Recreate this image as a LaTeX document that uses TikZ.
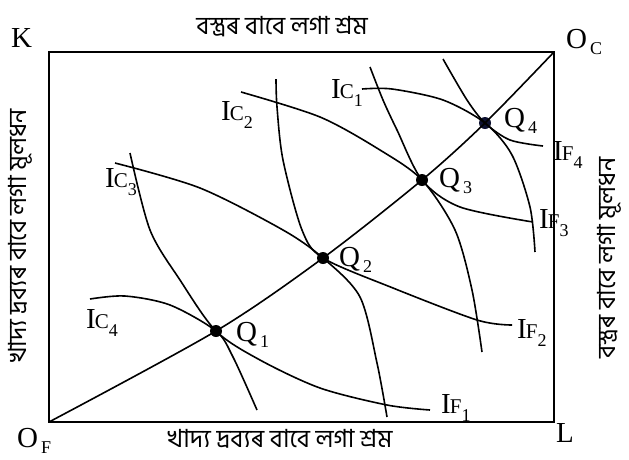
\documentclass[tikz,border=0pt]{standalone}
\usepackage{fontspec}
\setmainfont{Liberation Serif}
\newfontfamily\bnfont[Script=Bengali]{Hind Siliguri}
\usetikzlibrary{positioning}
\definecolor{navyq}{RGB}{12,16,48}
\tikzset{
    frame/.style={line width=2.2pt},
    curve/.style={line width=1.6pt},
    dot/.style={circle, fill=black, inner sep=0pt, minimum size=12pt},
    lbl/.style={font=\fontsize{29}{30}\selectfont, inner sep=0pt, anchor=base west},
    axtext/.style={font=\bnfont\fontsize{25}{27}\selectfont, inner sep=0pt}
}
\newcommand{\sublbl}[2]{#1\kern3pt\raisebox{-6pt}{\fontsize{18}{18}\selectfont #2}}
\newcommand{\ilbl}[2]{I\kern-1pt{\fontsize{21}{21}\selectfont #1}\raisebox{-8pt}{\fontsize{18}{18}\selectfont #2}}

\begin{document}
\begin{tikzpicture}[x=1pt, y=-1pt]
    \useasboundingbox (0,0) rectangle (629,459);
    \coordinate (OF) at (49,422);
    \coordinate (OC) at (554,52);
    \draw [frame] (OF) rectangle (OC);

    % equilibrium points
    \node [dot] (q1) at (216,331) {};
    \node [dot] (q2) at (323,258) {};
    \node [dot] (q3) at (422,180) {};
    \node [dot, fill=navyq] (q4) at (485,123) {};

    % contract curve
    \draw [curve] plot[smooth, tension=0.5] coordinates {(OF) (q1.center) (q2.center) (q3.center) (q4.center) (OC)};

    % indifference curves, cloth
    \draw [curve] plot[smooth] coordinates {(362,89) (392,89) (443,100) (q4.center) (512,155) (530,207) (535,252)};
    \draw [curve] plot[smooth] coordinates {(241,92) (320,117) (380,150) (q3.center) (455,230) (472,290) (482,352)};
    \draw [curve] plot[smooth] coordinates {(115,163) (200,188) (283,230) (q2.center) (360,297) (377,363) (387,417)};
    \draw [curve] plot[smooth] coordinates {(90,299) (125,296) (170,305) (q1.center) (233,357) (257,410)};

    % indifference curves, food
    \draw [curve] plot[smooth] coordinates {(443,59) (467,100) (q4.center) (510,140) (543,146)};
    \draw [curve] plot[smooth] coordinates {(370,67) (383,100) (397,130) (q3.center) (460,207) (533,222)};
    \draw [curve] plot[smooth] coordinates {(276,79) (277,107) (283,160) (302,230) (q2.center) (393,288) (477,320) (512,325)};
    \draw [curve] plot[smooth] coordinates {(130,153) (150,230) (180,280) (q1.center) (260,360) (320,388) (387,405) (430,410)};

    % labels
    \node [lbl] (k) at (11,47) {K};
    \node [lbl] (oc) at (566,48) {\sublbl{O}{C}};
    \node [lbl] (of) at (17,447) {\sublbl{O}{F}};
    \node [lbl] (l) at (556,442) {L};

    \node [lbl] (ql1) at (236,341) {\sublbl{Q}{1}};
    \node [lbl] (ql2) at (339,266) {\sublbl{Q}{2}};
    \node [lbl] (ql3) at (439,187) {\sublbl{Q}{3}};
    \node [lbl] (ql4) at (504,127) {\sublbl{Q}{4}};

    \node [lbl] (ic1) at (331,98) {\ilbl{C}{1}};
    \node [lbl] (ic2) at (221,120) {\ilbl{C}{2}};
    \node [lbl] (ic3) at (105,187) {\ilbl{C}{3}};
    \node [lbl] (ic4) at (86,328) {\ilbl{C}{4}};
    \node [lbl] (if1) at (441,413) {\ilbl{F}{1}};
    \node [lbl] (if2) at (517,338) {\ilbl{F}{2}};
    \node [lbl] (if3) at (539,228) {\ilbl{F}{3}};
    \node [lbl] (if4) at (553,160) {\ilbl{F}{4}};

    % axis texts
    \node [axtext] (top) at (282,27) {বস্ত্ৰৰ বাবে লগা শ্ৰম};
    \node [axtext] (bottom) at (280,439) {খাদ্য দ্ৰব্যৰ বাবে লগা শ্ৰম};
    \node [axtext, rotate=90] (left) at (20,236) {খাদ্য দ্ৰব্যৰ বাবে লগা মূলধন};
    \node [axtext, rotate=90] (right) at (609,258) {বস্ত্ৰৰ বাবে লগা মূলধন};
\end{tikzpicture}
\end{document}
